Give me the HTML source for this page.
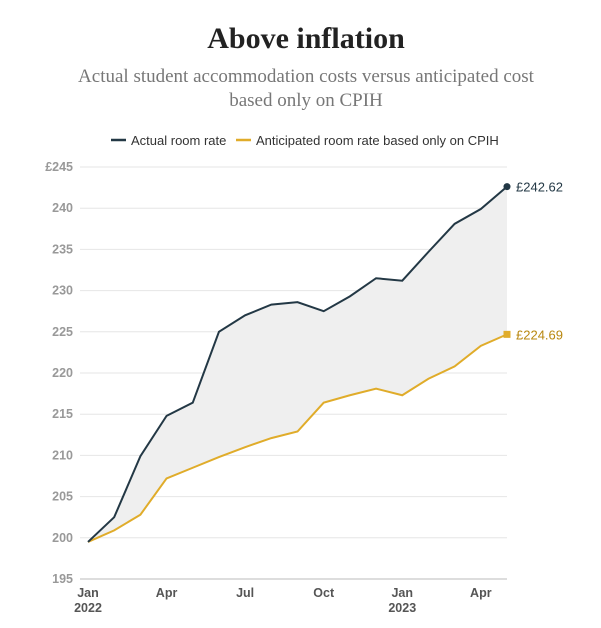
<!DOCTYPE html>
<html><head><meta charset="utf-8"><style>
body{margin:0;background:#fff;width:601px;height:623px;overflow:hidden}
svg text{font-family:"Liberation Sans",sans-serif}
</style></head><body>
<svg width="601" height="623">
<text x="306" y="48" text-anchor="middle" style="font-family:'Liberation Serif',serif;font-weight:bold;font-size:30px" fill="#222">Above inflation</text>
<text x="306" y="82" text-anchor="middle" style="font-family:'Liberation Serif',serif;font-size:19px" fill="#777">Actual student accommodation costs versus anticipated cost</text>
<text x="306" y="106" text-anchor="middle" style="font-family:'Liberation Serif',serif;font-size:19px" fill="#777">based only on CPIH</text>
<g>
<line x1="111" y1="140" x2="126" y2="140" stroke="#233845" stroke-width="2.5"/>
<text x="131" y="145" font-size="13" fill="#333">Actual room rate</text>
<line x1="236" y1="140" x2="251" y2="140" stroke="#e0ac2a" stroke-width="2.5"/>
<text x="256" y="145" font-size="13" fill="#333">Anticipated room rate based only on CPIH</text>
</g>
<g id="plot"></g>
</svg>
<script>
const months=["Jan","Feb","Mar","Apr","May","Jun","Jul","Aug","Sep","Oct","Nov","Dec","Jan","Feb","Mar","Apr","May"];
const actual=[199.5,202.5,209.9,214.8,216.4,225.0,227.0,228.3,228.6,227.5,229.3,231.5,231.2,234.7,238.1,239.9,242.62];
const anticipated=[199.5,200.9,202.8,207.2,208.5,209.8,211.0,212.1,212.9,216.4,217.3,218.1,217.3,219.3,220.8,223.3,224.69];
const yTicks=[195,200,205,210,215,220,225,230,235,240,245];
const xTickIdx=[0,3,6,9,12,15];
const xTickLabels=["Jan","Apr","Jul","Oct","Jan","Apr"];
const yearLabels=[[0,"2022"],[12,"2023"]];
const NS="http://www.w3.org/2000/svg";
const g=document.getElementById('plot');
const X=i=>88+i*(507-88)/16;
const Y=v=>579-(v-195)*(579-167)/50;
function mk(t,a,p){const e=document.createElementNS(NS,t);for(const k in a)e.setAttribute(k,a[k]);(p||g).appendChild(e);return e;}
yTicks.forEach((v,i)=>{
 const l=mk('line',{x1:80,x2:507,y1:Y(v),y2:Y(v),stroke:i==0?'#bbb':'#e6e6e6','stroke-width':1});
 
 
 const t=mk('text',{x:73,y:Y(v)+4,'text-anchor':'end','font-size':12.5,fill:'#999','font-weight':'bold'});
 t.textContent=(i==yTicks.length-1?'£':'')+v;
 
 
});
xTickIdx.forEach((idx,i)=>{
 const t=mk('text',{x:X(idx),y:597,'text-anchor':'middle','font-size':12.5,fill:'#555','font-weight':'bold'});
 t.textContent=xTickLabels[i];
 
 
});
yearLabels.forEach(([idx,s])=>{
 const t=mk('text',{x:X(idx),y:612,'text-anchor':'middle','font-size':12.5,fill:'#555','font-weight':'bold'});
 t.textContent=s;
 
 
});
const pa=actual.map((v,i)=>X(i)+','+Y(v));
const pb=anticipated.map((v,i)=>X(i)+','+Y(v));
const area=mk('polygon',{points:pa.concat(pb.slice().reverse()).join(' '),fill:'#efefef'});


const lb=mk('polyline',{points:pb.join(' '),fill:'none',stroke:'#e0ac2a','stroke-width':2});


const la=mk('polyline',{points:pa.join(' '),fill:'none',stroke:'#233845','stroke-width':2});


const n=actual.length-1;
const ea=mk('circle',{cx:X(n),cy:Y(actual[n]),r:3.5,fill:'#233845'});


const eb=mk('rect',{x:X(n)-3.5,y:Y(anticipated[n])-3.5,width:7,height:7,fill:'#e0ac2a'});


const ta=mk('text',{x:X(n)+9,y:Y(actual[n])+5,'font-size':13,fill:'#233845'});
ta.textContent='£'+actual[n].toFixed(2);


const tb=mk('text',{x:X(n)+9,y:Y(anticipated[n])+5,'font-size':13,fill:'#b8870f'});
tb.textContent='£'+anticipated[n].toFixed(2);


</script>
</body></html>
